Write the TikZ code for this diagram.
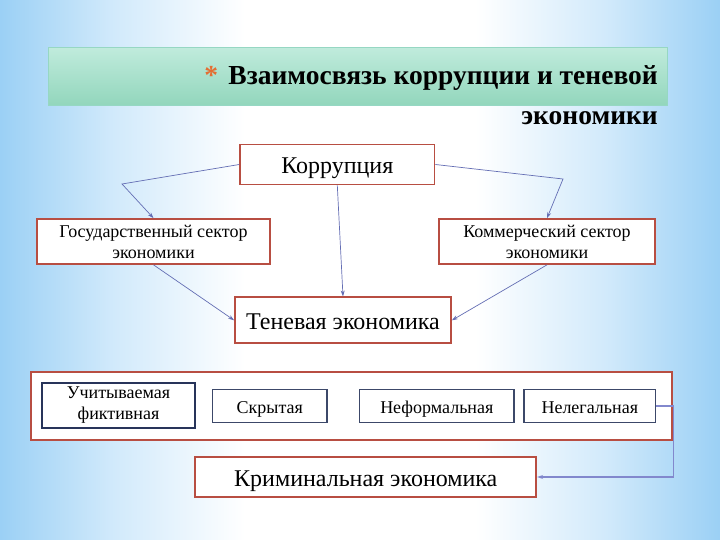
\documentclass[tikz,border=0pt]{standalone}
\usepackage{fontspec}
\setmainfont{Liberation Serif}
\newfontfamily\titlefont{Liberation Serif Bold}
\usetikzlibrary{arrows.meta}
\definecolor{bgblue}{RGB}{155,208,245}
\definecolor{bgmid}{RGB}{210,234,251}
\definecolor{boxred}{RGB}{184,78,66}
\definecolor{navy}{RGB}{40,52,90}
\definecolor{navylight}{RGB}{60,72,105}
\definecolor{arr}{RGB}{100,110,180}
\definecolor{mintA}{RGB}{192,235,220}
\definecolor{mintB}{RGB}{146,214,188}
\definecolor{mintline}{RGB}{150,215,195}
\definecolor{star}{RGB}{228,110,50}
\pgfdeclarehorizontalshading{bgh}{100bp}{color(0bp)=(bgblue); color(25bp)=(bgblue); color(33bp)=(bgmid); color(42bp)=(white); color(58bp)=(white); color(67bp)=(bgmid); color(75bp)=(bgblue); color(100bp)=(bgblue)}
\newcommand\bigtx[1]{\raisebox{0pt}[19pt][0pt]{#1}}
\newcommand\smtx[1]{\raisebox{0pt}[14.5pt][0pt]{#1}}
\tikzset{
  rbox/.style={draw=boxred, line width=1.7pt, fill=white, align=center, inner sep=2pt},
  nbox/.style={draw=navylight, line width=1.7pt, fill=white, align=center, inner sep=2pt},
  big/.style={font=\fontsize{24}{28}\selectfont},
  mid/.style={font=\fontsize{18}{21}\selectfont},
  conn/.style={draw=arr, line width=0.7pt, -{Stealth[length=6pt,width=4pt]}},
  ttl/.style={font=\titlefont\fontsize{27.5}{30}\selectfont, inner sep=0pt, anchor=base east},
}
\begin{document}
\begin{tikzpicture}[x=1pt,y=-1pt]
\useasboundingbox (0,0) rectangle (720,540);
\shade[shading=bgh] (0,0) rectangle (720,540);
% banner
\node[draw=mintline, line width=1pt, top color=mintA, bottom color=mintB, minimum width=619pt, minimum height=58pt, inner sep=0pt] (banner) at (357.5,76.5) {};
\node[ttl] (t1) at (658,85) {Взаимосвязь коррупции и теневой};
\node[ttl, text=star] (ast) at ([xshift=-10pt]t1.base west) {*};
\node[ttl] (t2) at (658,125) {экономики};
% nodes
\node[rbox, big, minimum width=194.5pt, minimum height=40pt] (korr) at (337.3,164.5) {\bigtx{Коррупция}};
\node[rbox, mid, minimum width=233pt, minimum height=45pt] (gos) at (153.5,241.5) {Государственный сектор\\экономики};
\node[rbox, mid, minimum width=216pt, minimum height=45pt] (komm) at (547,241.5) {Коммерческий сектор\\экономики};
\node[rbox, big, minimum width=216pt, minimum height=46pt] (ten) at (343,320.3) {\bigtx{Теневая экономика}};
\node[rbox, minimum width=641pt, minimum height=68pt] (frame) at (351.5,406) {};
\node[draw=navy, line width=2.2pt, fill=white, align=center, mid, minimum width=153pt, minimum height=45pt, inner sep=1pt] (uch) at (118.5,405.5) {Учитываемая\\фиктивная};
\node[nbox, mid, minimum width=114.5pt, minimum height=33pt] (skr) at (269.8,406) {\smtx{Скрытая}};
\node[nbox, mid, minimum width=154.5pt, minimum height=33pt] (nef) at (436.8,406) {\smtx{Неформальная}};
\node[nbox, mid, minimum width=131.5pt, minimum height=33pt] (nel) at (589.8,406) {\smtx{Нелегальная}};
\node[rbox, big, minimum width=341pt, minimum height=40pt] (krim) at (365.8,477) {\bigtx{Криминальная экономика}};
% connectors
\coordinate (cl) at (122,184);
\coordinate (cr) at (563,179);
\draw[conn] (korr.west) -- (cl) -- (gos.north);
\draw[conn] (korr.south) -- (ten.north);
\draw[conn] (korr.east) -- (cr) -- (komm.north);
\draw[conn] (gos.south) -- (ten.west);
\draw[conn] (komm.south) -- (ten.east);
\draw[conn, draw={rgb,255:red,130;green,136;blue,205}, line width=1.5pt] (nel.east) -- ++(17,0) |- (krim.east);
\end{tikzpicture}
\end{document}
